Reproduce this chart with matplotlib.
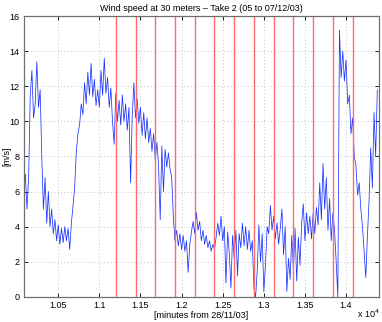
import numpy as np
import matplotlib
matplotlib.use("Agg")
import matplotlib.pyplot as plt

# sampling every 20 minutes
minutes = np.arange(10080, 14400, 20)
speed = [
    6.0, 7.0, 5.0, 6.8, 11.5, 12.9, 10.2, 11.0, 13.4, 10.8, 11.8, 8.0,
    5.0, 6.8, 4.2, 6.0, 4.0, 5.0, 3.6, 4.4, 3.2, 4.1, 3.0, 3.9,
    3.1, 4.0, 3.2, 3.9, 2.7, 4.2, 5.2, 6.2, 8.3, 9.3, 9.8, 11.0,
    10.4, 12.2, 11.0, 12.8, 11.5, 13.3, 11.4, 12.4, 10.9, 11.8, 10.8, 12.9,
    11.5, 13.6, 11.6, 12.5, 10.8, 11.9, 10.0, 8.7, 11.6, 10.0, 11.2, 9.8,
    11.5, 10.0, 11.0, 9.5, 10.8, 6.5, 10.3, 12.2, 10.2, 11.3, 9.9, 10.8,
    9.2, 10.5, 9.0, 10.2, 8.8, 9.6, 8.3, 9.3, 7.8, 8.8, 7.5, 4.4,
    8.6, 6.0, 8.4, 7.4, 8.2, 7.3, 6.8, 4.5, 3.2, 3.8, 2.9, 3.6,
    2.7, 3.5, 2.6, 3.2, 1.4, 3.0, 3.7, 4.3, 3.6, 4.8, 3.8, 4.3,
    3.2, 3.8, 3.0, 3.5, 2.8, 3.2, 2.6, 3.0, 2.7, 3.4, 4.2, 3.5,
    4.6, 3.2, 4.0, 0.8, 3.7, 2.5, 0.5, 3.5, 2.2, 3.8, 1.2, 3.6,
    2.8, 4.2, 2.9, 4.0, 2.7, 3.8, 2.6, 3.2, 0.5, 0.0, 1.5, 4.1,
    2.0, 3.6, 0.3, 1.8, 4.0, 3.6, 5.2, 3.8, 4.6, 3.3, 4.2, 3.0,
    3.9, 5.0, 2.4, 4.0, 0.3, 2.2, 1.0, 3.5, 1.5, 3.9, 0.9, 3.4,
    1.8, 4.2, 5.3, 3.2, 4.8, 3.6, 4.6, 3.3, 4.8, 3.6, 5.1, 4.1,
    6.5, 4.4, 7.6, 5.0, 6.8, 3.8, 5.6, 3.2, 4.8, 3.8, 2.0, 0.0,
    15.2, 12.5, 14.0, 12.3, 13.5, 11.0, 11.5, 9.3, 10.2, 8.0, 7.5, 5.8,
    6.5, 5.0, 4.0, 2.5, 1.1, 3.5, 5.5, 8.5, 6.2, 10.5, 8.0, 11.8,
]

# take boundaries (every 4 hours)
takes = [11200, 11440, 11680, 11920, 12160, 12400, 12640,
         12880, 13120, 13360, 13600, 13840, 14080]

xticks = [10500, 11000, 11500, 12000, 12500, 13000, 13500, 14000]
xticklabels = ["1.05", "1.1", "1.15", "1.2", "1.25", "1.3", "1.35", "1.4"]
yticks = [0, 2, 4, 6, 8, 10, 12, 14, 16]

plt.rcParams['font.family'] = ['Liberation Sans', 'DejaVu Sans']

fig = plt.figure(figsize=(3.82, 3.22), dpi=100)
ax = fig.add_axes([0.062, 0.078, 0.930, 0.872])

ax.plot(minutes, speed, color='#1a33ff', linewidth=0.55)
for t in takes:
    ax.axvline(t, color='#ff6a6a', linewidth=1.0)

ax.set_xlim(10080, 14400)
ax.set_ylim(0, 16)
ax.set_xticks(xticks)
ax.set_xticklabels(xticklabels)
ax.set_yticks(yticks)
ax.grid(True, color='#b0b0b0', linestyle=(0, (1, 3)), linewidth=0.6)
ax.tick_params(direction='in', top=True, right=True, length=3,
               labelsize=6.5, width=0.6, pad=3)
for s in ax.spines.values():
    s.set_color('#707070')
    s.set_linewidth(0.9)

ax.set_title("Wind speed at 30 meters \u2013 Take 2 (05 to 07/12/03)",
             fontsize=6.5, pad=4)
ax.set_xlabel("[minutes from 28/11/03]", fontsize=6.5, labelpad=1)
ax.set_ylabel("[m/s]", fontsize=6.5)
ax.yaxis.set_label_coords(-0.036, 0.5)
fig.text(0.993, 0.012, "x 10$^4$", fontsize=6.5, ha='right')

fig.savefig("out.png", dpi=100)
